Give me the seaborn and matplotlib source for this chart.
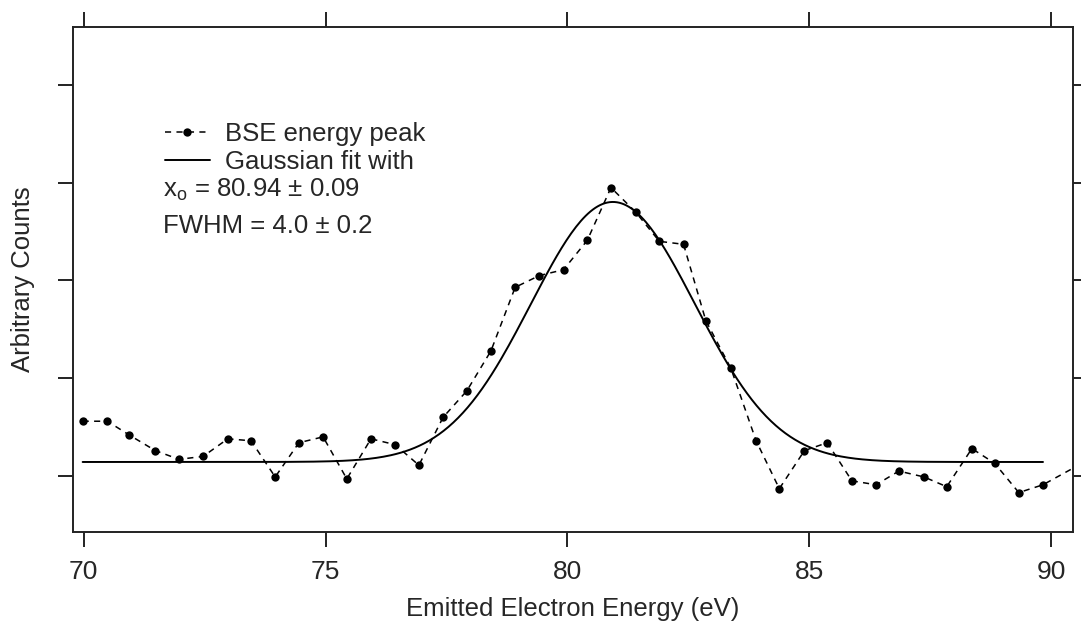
import numpy as np
import matplotlib
matplotlib.use("Agg")
import matplotlib.pyplot as plt
import seaborn as sns

# BSE spectrum (energy in eV, counts in arbitrary units)
energy = [69.98, 70.49, 70.94, 71.48, 71.97, 72.47, 72.98, 73.46, 73.96, 74.45,
          74.95, 75.44, 75.94, 76.44, 76.93, 77.43, 77.92, 78.42, 78.92, 79.42,
          79.92, 80.41, 80.90, 81.41, 81.90, 82.40, 82.86, 83.38, 83.90, 84.38,
          84.90, 85.37, 85.88, 86.38, 86.85, 87.37, 87.84, 88.36, 88.83, 89.33,
          89.83, 90.60]
counts = [56, 56, 42, 26, 17, 20, 38, 36, -1, 34,
          40, -3, 38, 32, 11, 60, 87, 128, 193, 205,
          211, 241, 295, 270, 240, 237, 159, 110, 36, -13,
          26, 34, -5, -9, 5, -1, -11, 28, 13, -17,
          -9, 12]

# Gaussian fit parameters
x0 = 80.94
fwhm = 4.0
baseline = 14.3
amplitude = 266.0

x_ticks = [70, 75, 80, 85, 90]
y_ticks = [0, 100, 200, 300, 400]

sns.set_theme(style="ticks")
plt.rcParams['font.family'] = ['Liberation Sans', 'DejaVu Sans']
plt.rcParams['mathtext.fontset'] = 'custom'
plt.rcParams['mathtext.rm'] = 'Liberation Sans'

fig = plt.figure(figsize=(10.81, 6.26), dpi=100)
ax = fig.add_axes([0.0675, 0.1502, 0.9251, 0.8067])

sigma = fwhm / (2 * np.sqrt(2 * np.log(2)))
xfit = np.linspace(energy[0], energy[-2], 400)
yfit = baseline + amplitude * np.exp(-(xfit - x0) ** 2 / (2 * sigma ** 2))

sns.lineplot(x=energy, y=counts, ax=ax, color="black", linestyle=(0, (4, 3.5)),
             linewidth=1.1, marker="o", markersize=6, markeredgewidth=0,
             label="BSE energy peak")
sns.lineplot(x=xfit, y=yfit, ax=ax, color="black", linewidth=1.4,
             label="Gaussian fit with")
for ln in ax.lines:
    ln.set_clip_on(True)
    ln.set_clip_box(ax.bbox)

ax.set_xlim(69.78, 90.45)
ax.set_ylim(-57.3, 459.3)
ax.set_xticks(x_ticks)
ax.set_yticks(y_ticks)
ax.tick_params(axis="both", direction="out", length=11, width=1.4, color="#222222",
               top=True, right=True, labelleft=False, labelsize=19, pad=9)
for s in ax.spines.values():
    s.set_linewidth(1.4)
    s.set_color("#222222")
    s.set_visible(True)

ax.set_xlabel("Emitted Electron Energy (eV)", fontsize=18.5, labelpad=9.5)
ax.set_ylabel("Arbitrary Counts", fontsize=18.5, labelpad=16)

h, l = ax.get_legend_handles_labels()
ax.legend(h, l, loc="upper left", bbox_to_anchor=(0.092, 0.812), frameon=False,
          fontsize=18.5, handlelength=1.75, handletextpad=0.6, labelspacing=0.15,
          borderpad=0, borderaxespad=0, numpoints=1)
ax.text(0.09, 0.677, r"x$_{\mathregular{o}}$ = 80.94 ± 0.09", transform=ax.transAxes,
        fontsize=18.5, va="center", ha="left")
ax.text(0.09, 0.606, "FWHM = 4.0 ± 0.2", transform=ax.transAxes,
        fontsize=18.5, va="center", ha="left")

fig.savefig("out.png", dpi=100)
